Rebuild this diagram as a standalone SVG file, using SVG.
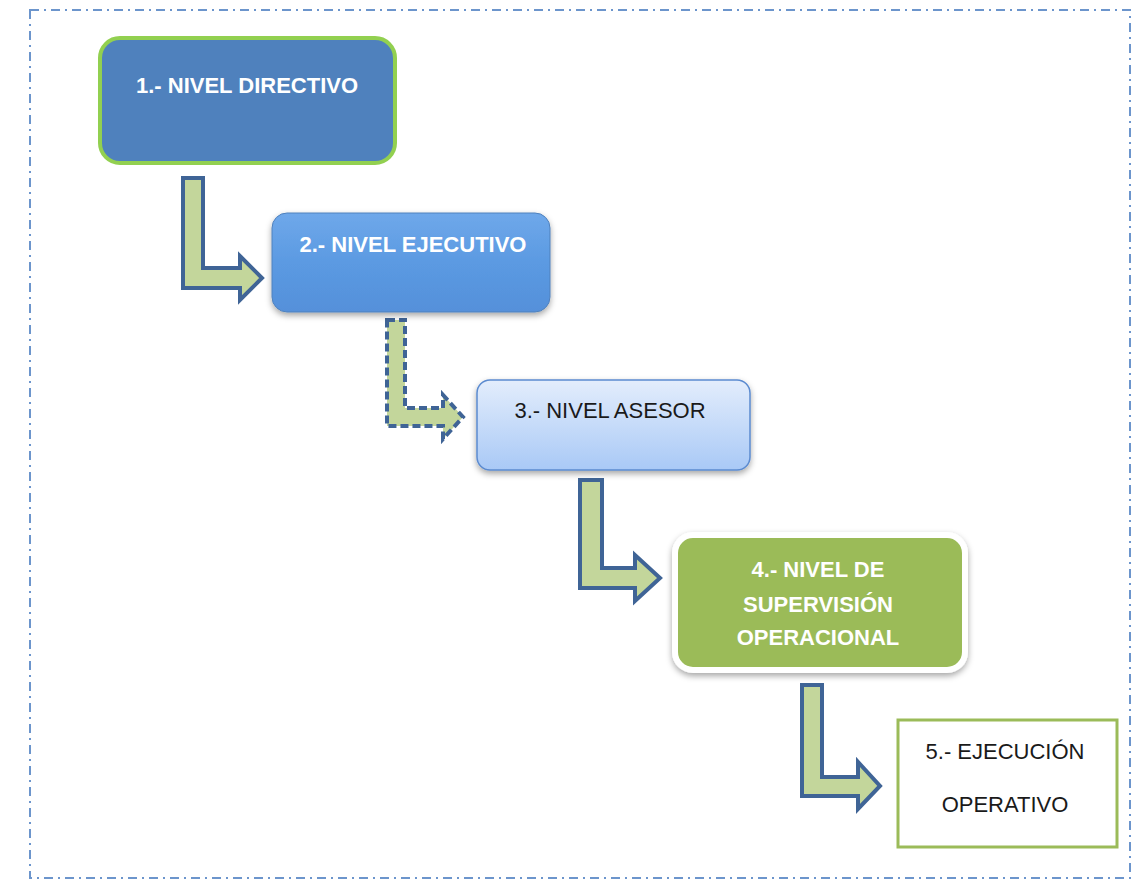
<svg xmlns="http://www.w3.org/2000/svg" width="1144" height="882" viewBox="0 0 1144 882">
<style>
.t{font-family:"Liberation Sans",Arial,sans-serif;font-size:22px;text-anchor:middle}
.w{fill:#ffffff;font-weight:bold}
.d{fill:#1a1a1a}
.arr{fill:#C3D69B;stroke:#3F6496;stroke-width:4;stroke-linejoin:miter}
</style>
<defs>
<linearGradient id="g2" x1="0" y1="0" x2="0" y2="1">
<stop offset="0" stop-color="#6FA8EA"/><stop offset="0.5" stop-color="#5B9AE2"/><stop offset="1" stop-color="#5590DA"/>
</linearGradient>
<linearGradient id="g3" x1="0" y1="0" x2="0" y2="1">
<stop offset="0" stop-color="#E3EDFC"/><stop offset="1" stop-color="#A9C9F6"/>
</linearGradient>
<filter id="sh" x="-10%" y="-10%" width="120%" height="130%">
<feDropShadow dx="0" dy="3" stdDeviation="3" flood-color="#000" flood-opacity="0.35"/>
</filter>
<filter id="gl" x="-10%" y="-10%" width="120%" height="130%">
<feGaussianBlur stdDeviation="1"/>
</filter>
</defs>
<rect x="30" y="10" width="1100" height="868" fill="none" stroke="#6C95CC" stroke-width="2" stroke-dasharray="9,5,2,5"/>
<g id="connectors">
<path class="arr" d="M183,178 H203 V268 H240 V256 L262,278 L240,300 V288 H183 Z"/>
<path class="arr" d="M387,320 H405 V408 H443 V395 L463,417 L443,439 V426 H387 Z" stroke-dasharray="8,4"/>
<path class="arr" d="M580,480 H602 V568 H635 V555 L660,578 L635,601 V588 H580 Z"/>
<path class="arr" d="M802,685 H822 V777 H858 V762 L880,786 L858,809 V796 H802 Z"/>
</g>
<g id="n1">
<rect x="100" y="38" width="295" height="125" rx="20" fill="#4F81BD" stroke="#92D050" stroke-width="4"/>
<text class="t w" x="247" y="93">1.- NIVEL DIRECTIVO</text>
</g>
<g id="n2">
<rect x="272" y="213" width="278" height="99" rx="15" fill="url(#g2)" stroke="#4F81BD" stroke-width="1" filter="url(#sh)"/>
<text class="t w" x="413" y="252">2.- NIVEL EJECUTIVO</text>
</g>
<g id="n3">
<rect x="477" y="380" width="273" height="90" rx="13" fill="url(#g3)" stroke="#5B8BD0" stroke-width="1.5" filter="url(#sh)"/>
<text class="t d" x="610" y="418">3.- NIVEL ASESOR</text>
</g>
<g id="n4">
<rect x="675" y="535" width="290" height="135" rx="18" fill="#9BBB59" stroke="#ffffff" stroke-width="6" filter="url(#sh)"/>
<text class="t w" x="818" y="577">4.- NIVEL DE</text>
<text class="t w" x="818" y="612">SUPERVISIÓN</text>
<text class="t w" x="818" y="645">OPERACIONAL</text>
</g>
<g id="n5">
<rect x="898" y="720" width="219" height="127" fill="#ffffff" stroke="#9BBB59" stroke-width="3"/>
<text class="t d" x="1005" y="759">5.- EJECUCIÓN</text>
<text class="t d" x="1005" y="812">OPERATIVO</text>
</g>
</svg>
